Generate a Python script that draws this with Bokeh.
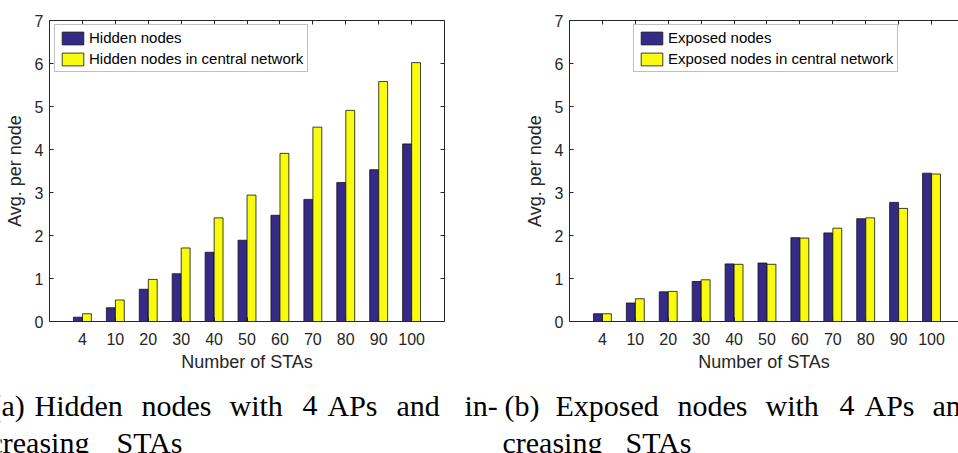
from bokeh.plotting import figure
from bokeh.models import (ColumnDataSource, FixedTicker, LinearAxis, Range1d,
                          Legend, LegendItem)
from bokeh.layouts import column, row
from bokeh.embed import file_html
from bokeh.resources import INLINE
from bokeh.core.properties import value

# Number of stations (category labels on the x axis)
stas = ["4", "10", "20", "30", "40", "50", "60", "70", "80", "90", "100"]

# Average hidden nodes per node
hidden = [0.10, 0.32, 0.75, 1.11, 1.61, 1.89, 2.47, 2.84, 3.23, 3.53, 4.13]
hidden_central = [0.18, 0.50, 0.98, 1.71, 2.41, 2.94, 3.91, 4.52, 4.91, 5.58, 6.02]

# Average exposed nodes per node
exposed = [0.18, 0.43, 0.69, 0.93, 1.34, 1.36, 1.95, 2.06, 2.39, 2.77, 3.45]
exposed_central = [0.18, 0.53, 0.70, 0.97, 1.33, 1.33, 1.94, 2.17, 2.41, 2.63, 3.43]

y_ticks = [0, 1, 2, 3, 4, 5, 6, 7]

# Sub-figure captions: (text, left x in px, baseline row)
caption_words = [
    ("(a)", -9, 0), ("Hidden", 34, 0), ("nodes", 141, 0), ("with", 229, 0),
    ("4", 302, 0), ("APs", 327, 0), ("and", 396, 0), ("in-", 464, 0),
    ("creasing", -11, 1), ("STAs", 116, 1),
    ("(b)", 504, 0), ("Exposed", 555, 0), ("nodes", 677, 0), ("with", 765, 0),
    ("4", 839, 0), ("APs", 864, 0), ("and", 932, 0),
    ("creasing", 502, 1), ("STAs", 625, 1),
]

BLUE = "#352a87"
YELLOW = "#f9fb0e"
AXIS = "#262626"
SANS = "Liberation Sans"

BAR_W = 0.27
OFFSET = 0.137
PANEL_H = 380
CAP_H = 453 - PANEL_H


def style_axis(ax, ticks, labels=True):
    ax.ticker = FixedTicker(ticks=ticks)
    ax.minor_tick_line_color = None
    ax.major_tick_in = 4
    ax.major_tick_out = 0
    ax.axis_line_color = AXIS
    ax.major_tick_line_color = AXIS
    ax.axis_line_width = 1
    if labels:
        ax.major_label_text_font = SANS
        ax.major_label_text_font_size = "16px"
        ax.major_label_text_color = AXIS
        ax.axis_label_text_font = SANS
        ax.axis_label_text_font_size = "18px"
        ax.axis_label_text_font_style = "normal"
        ax.axis_label_text_color = AXIS
    else:
        ax.major_label_overrides = {t: "" for t in ticks}
        ax.major_label_standoff = 0


def panel(series_a, series_b, name_a, name_b, x_end, border_left, border_right,
          legend_x, right_axis):
    p = figure(width=479, height=PANEL_H, x_range=Range1d(0, x_end),
               y_range=Range1d(0, 7), output_backend="svg",
               toolbar_location=None, min_border_left=border_left,
               min_border_right=border_right, min_border_top=20,
               min_border_bottom=PANEL_H - 321)
    p.grid.visible = False
    p.outline_line_color = None
    p.background_fill_color = "white"
    p.border_fill_color = "white"

    pos = list(range(1, len(stas) + 1))
    src = ColumnDataSource(dict(
        xa=[x - OFFSET for x in pos], xb=[x + OFFSET for x in pos],
        a=series_a, b=series_b))
    ra = p.vbar(x="xa", top="a", width=BAR_W, source=src, fill_color=BLUE,
                line_color="#111111", line_width=0.8)
    rb = p.vbar(x="xb", top="b", width=BAR_W, source=src, fill_color=YELLOW,
                line_color="#111111", line_width=0.8)

    xa = p.xaxis[0]
    style_axis(xa, pos)
    xa.major_label_overrides = {i + 1: s for i, s in enumerate(stas)}
    xa.major_label_standoff = 11
    xa.axis_label = "Number of STAs"
    xa.axis_label_standoff = 4

    ya = p.yaxis[0]
    style_axis(ya, y_ticks)
    ya.major_label_standoff = 6
    ya.axis_label = "Avg. per node"
    ya.axis_label_standoff = 7

    top = LinearAxis()
    style_axis(top, pos, labels=False)
    p.add_layout(top, "above")

    if right_axis:
        rgt = LinearAxis()
        style_axis(rgt, y_ticks, labels=False)
        p.add_layout(rgt, "right")

    legend = Legend(items=[LegendItem(label=name_a, renderers=[ra]),
                           LegendItem(label=name_b, renderers=[rb])],
                    location=(legend_x, 249), margin=0, padding=4, spacing=4,
                    glyph_width=27, glyph_height=16, label_height=16,
                    label_standoff=3, label_text_font=SANS,
                    label_text_font_size="15px", label_text_color="black",
                    border_line_color="#808080", border_line_width=1,
                    background_fill_color="white", background_fill_alpha=1)
    p.add_layout(legend)
    return p


p1 = panel(hidden, hidden_central, "Hidden nodes",
           "Hidden nodes in central network", 12, 49, 35, 5, True)
p2 = panel(exposed, exposed_central, "Exposed nodes",
           "Exposed nodes in central network", 11.82, 90, 0, 64, False)

# Caption strip below the two panels (pixel-based ranges)
cap = figure(width=958, height=CAP_H, x_range=Range1d(0, 958),
             y_range=Range1d(0, CAP_H), output_backend="svg",
             toolbar_location=None, min_border=0,
             x_axis_location=None, y_axis_location=None)
cap.grid.visible = False
cap.outline_line_color = None
baselines = [48, 11]
cap_src = ColumnDataSource(dict(
    x=[w[1] for w in caption_words],
    y=[baselines[w[2]] for w in caption_words],
    t=[w[0] for w in caption_words]))
cap.text(x="x", y="y", text="t", source=cap_src,
         text_font=value("Liberation Serif"), text_font_size="30px",
         text_baseline="alphabetic", text_align="left", text_color="black")

layout = column(row(p1, p2), cap)
open("out.html", "w").write(file_html(layout, INLINE))
